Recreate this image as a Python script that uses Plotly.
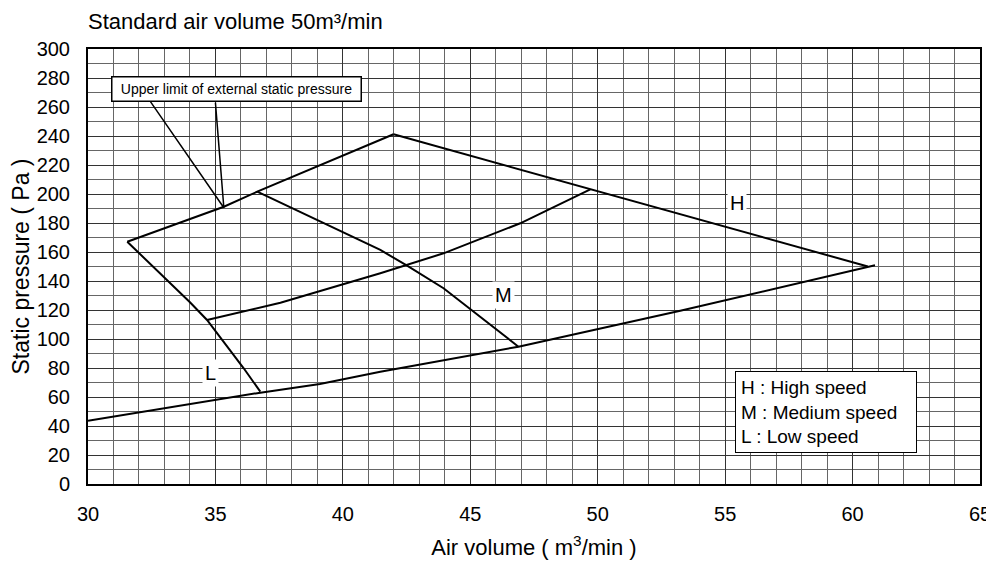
import plotly.graph_objects as go

# ---- data ----
upper_limit_x = [31.54, 35.33, 36.64, 41.99]
upper_limit_y = [167.1, 191.2, 201.6, 241.2]

h_curve_x = [41.99, 49.71, 60.6]
h_curve_y = [241.2, 203.2, 150.0]

lower_limit_x = [30.0, 36.76, 39.1, 41.47, 46.89, 48.4, 50.1, 53.24, 60.88]
lower_limit_y = [43.7, 63.0, 69.0, 77.4, 94.7, 100.5, 107.4, 119.5, 150.8]

l_curve_x = [31.54, 34.02, 34.67, 36.11, 36.76]
l_curve_y = [167.1, 125.0, 113.1, 79.8, 63.7]

m_rise_x = [34.67, 37.55, 41.47, 43.95, 46.96, 49.71]
m_rise_y = [113.1, 125.0, 145.3, 159.1, 179.8, 203.2]

m_fall_x = [36.64, 41.47, 42.52, 43.95, 46.89]
m_fall_y = [201.6, 161.4, 150.6, 135.0, 94.7]

pointer_x = [32.45, 35.33, 35.0]
pointer_y = [263.7, 190.5, 263.0]

speed_labels = ["H", "M", "L"]
speed_label_x = [55.46, 46.31, 34.8]
speed_label_y = [193.6, 130.3, 76.3]

legend_lines = ["H : High speed", "M : Medium speed", "L : Low speed"]

x_ticks = [30, 35, 40, 45, 50, 55, 60, 65]
y_ticks = list(range(0, 301, 20))

FONT = "Liberation Sans, Arial, Helvetica, sans-serif"
LINE = dict(color="black", width=2)

fig = go.Figure()
for xs, ys in [(upper_limit_x, upper_limit_y), (h_curve_x, h_curve_y),
               (lower_limit_x, lower_limit_y), (l_curve_x, l_curve_y),
               (m_rise_x, m_rise_y), (m_fall_x, m_fall_y)]:
    fig.add_trace(go.Scatter(x=xs, y=ys, mode="lines", line=LINE,
                             hoverinfo="skip", showlegend=False))

fig.add_trace(go.Scatter(x=pointer_x, y=pointer_y, mode="lines",
                         line=dict(color="black", width=1.5),
                         hoverinfo="skip", showlegend=False))

for t, xv, yv in zip(speed_labels, speed_label_x, speed_label_y):
    fig.add_annotation(x=xv, y=yv, text=t, showarrow=False,
                       font=dict(family=FONT, size=20, color="black"),
                       bgcolor="white", borderpad=2)

fig.add_annotation(x=35.84, y=272.1, text="Upper limit of external static pressure",
                   showarrow=False, width=242, height=17,
                   font=dict(family=FONT, size=14, color="black"),
                   bgcolor="white", bordercolor="black", borderwidth=1.5, borderpad=3)

fig.add_annotation(x=55.39, y=78.1, xanchor="left", yanchor="top",
                   text="<br>".join(legend_lines), align="left", showarrow=False,
                   width=170,
                   font=dict(family=FONT, size=19, color="black"),
                   bgcolor="white", bordercolor="black", borderwidth=1, borderpad=5)

# page body has an 8px margin: figure is sized/placed so the plot lands where the reference has it
fig.update_layout(
    width=986, height=563,
    margin=dict(l=80, r=14, t=41, b=87),
    paper_bgcolor="white", plot_bgcolor="white",
    font=dict(family=FONT, color="black"),
    title=dict(text="Standard air volume 50m³/min",
               x=0.0811, xanchor="left", y=0.976, yanchor="middle",
               font=dict(family=FONT, size=22, color="black")),
    xaxis=dict(range=[30, 65], tickvals=x_ticks, showgrid=True,
               gridcolor="#333", gridwidth=1,
               minor=dict(dtick=1, showgrid=True, gridcolor="#666", gridwidth=1),
               showline=True, linecolor="black", linewidth=2, mirror=True,
               zeroline=False, ticks="", tickfont=dict(size=20),
               ticklabelstandoff=11, automargin=False,
               title=dict(text="Air volume ( m<sup>3</sup>/min )", font=dict(size=22), standoff=16)),
    yaxis=dict(range=[0, 300], tickvals=y_ticks, showgrid=True,
               gridcolor="#333", gridwidth=1,
               minor=dict(dtick=10, showgrid=True, gridcolor="#666", gridwidth=1),
               showline=True, linecolor="black", linewidth=2, mirror=True,
               zeroline=False, ticks="", tickfont=dict(size=20),
               ticklabelstandoff=12, automargin=False,
               title=dict(text="Static pressure ( Pa )", font=dict(size=23), standoff=5)),
)

fig.write_html("out.html")
